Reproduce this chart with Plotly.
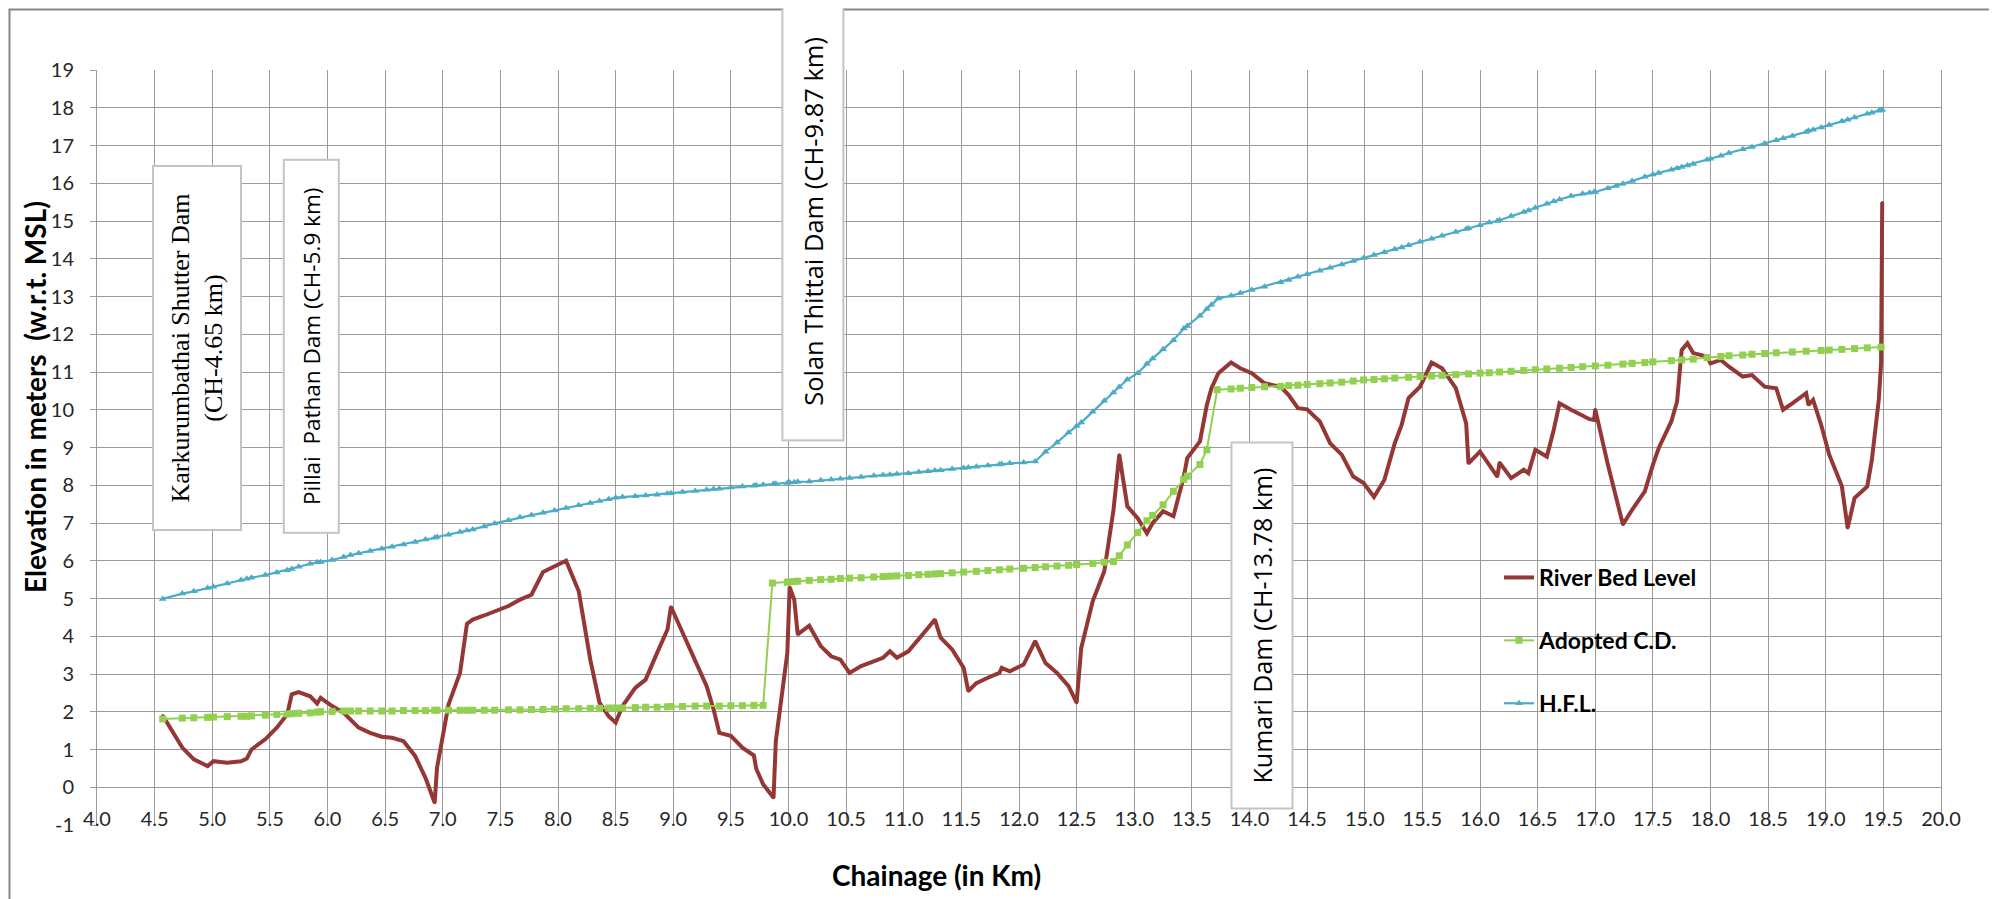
import plotly.graph_objects as go

# ---------------- data ----------------
chainage_km = [4.57, 4.74, 4.84, 4.96, 5.01, 5.13, 5.25, 5.30, 5.34, 5.46, 5.56, 5.65, 5.69, 5.75, 5.85,
               5.91, 5.94, 6.04, 6.14, 6.20, 6.27, 6.37, 6.47, 6.56, 6.66, 6.76, 6.85, 6.93, 6.95, 7.05,
               7.15, 7.21, 7.26, 7.36, 7.45, 7.57, 7.67, 7.77, 7.87, 7.97, 8.07, 8.18, 8.28, 8.36, 8.44,
               8.50, 8.56, 8.67, 8.76, 8.86, 8.95, 8.98, 9.08, 9.19, 9.29, 9.35, 9.40, 9.50, 9.60, 9.70,
               9.72, 9.78, 9.87, 9.89, 9.99, 10.01, 10.05, 10.08, 10.18, 10.28, 10.37, 10.45, 10.53, 10.63,
               10.74, 10.82, 10.88, 10.94, 11.04, 11.13, 11.21, 11.27, 11.32, 11.42, 11.52, 11.56, 11.63,
               11.73, 11.83, 11.85, 11.92, 12.04, 12.14, 12.23, 12.33, 12.43, 12.50, 12.54, 12.64, 12.74,
               12.82, 12.87, 12.94, 13.03, 13.11, 13.16, 13.25, 13.34, 13.43, 13.46, 13.57, 13.63, 13.67,
               13.73, 13.84, 13.92, 14.02, 14.13, 14.27, 14.34, 14.42, 14.50, 14.61, 14.70, 14.80, 14.90,
               14.99, 15.08, 15.17, 15.26, 15.32, 15.38, 15.48, 15.58, 15.67, 15.79, 15.88, 15.90, 16.00,
               16.08, 16.15, 16.17, 16.27, 16.38, 16.42, 16.48, 16.58, 16.64, 16.69, 16.79, 16.89, 16.95,
               16.99, 17.00, 17.11, 17.18, 17.24, 17.32, 17.43, 17.50, 17.55, 17.66, 17.71, 17.75, 17.80,
               17.85, 17.97, 18.00, 18.09, 18.16, 18.28, 18.36, 18.47, 18.57, 18.63, 18.71, 18.83, 18.85,
               18.89, 18.96, 19.03, 19.14, 19.19, 19.25, 19.36, 19.40, 19.46, 19.48, 19.49]

river_bed_level = [1.90, 1.05, 0.74, 0.56, 0.69, 0.65, 0.69, 0.76, 1.00, 1.27, 1.58, 1.93, 2.46, 2.52, 2.41,
                   2.22, 2.37, 2.15, 1.97, 1.80, 1.58, 1.44, 1.34, 1.31, 1.22, 0.83, 0.25, -0.41, 0.51, 2.19,
                   3.03, 4.33, 4.44, 4.55, 4.66, 4.80, 4.97, 5.10, 5.70, 5.85, 6.00, 5.19, 3.38, 2.24, 1.88,
                   1.71, 2.15, 2.63, 2.85, 3.56, 4.18, 4.78, 4.09, 3.34, 2.68, 2.06, 1.44, 1.36, 1.05, 0.84,
                   0.49, 0.08, -0.28, 1.22, 3.56, 5.30, 4.97, 4.05, 4.28, 3.74, 3.47, 3.38, 3.03, 3.21,
                   3.34, 3.43, 3.60, 3.43, 3.60, 3.91, 4.22, 4.44, 3.96, 3.65, 3.16, 2.55, 2.76,
                   2.90, 3.03, 3.16, 3.07, 3.25, 3.87, 3.29, 3.03, 2.68, 2.24, 3.69, 4.93, 5.72,
                   7.35, 8.81, 7.44, 7.13, 6.73, 7.00, 7.31, 7.18, 8.23, 8.72, 9.16, 10.13, 10.57,
                   10.97, 11.25, 11.10, 10.97, 10.70, 10.61, 10.39, 10.04, 10.01, 9.69, 9.11, 8.81, 8.23,
                   8.06, 7.69, 8.14, 9.11, 9.60, 10.31, 10.61, 11.25, 11.10, 10.57, 9.64, 8.58, 8.89,
                   8.54, 8.23, 8.60, 8.19, 8.41, 8.32, 8.94, 8.76, 9.47, 10.17, 10.00, 9.86, 9.75,
                   9.73, 10.01, 8.54, 7.66, 6.96, 7.35, 7.84, 8.54, 8.98, 9.69, 10.22, 11.58, 11.76,
                   11.50, 11.41, 11.23, 11.32, 11.14, 10.88, 10.92, 10.61, 10.57, 10.00, 10.17, 10.44, 10.13,
                   10.26, 9.60, 8.81, 7.97, 6.87, 7.66, 7.97, 8.67, 10.26, 11.23, 15.49]

hfl_level = [4.99, 5.13, 5.19, 5.28, 5.31, 5.40, 5.49, 5.52, 5.55, 5.62, 5.69, 5.75, 5.78, 5.84, 5.92,
             5.96, 5.97, 6.02, 6.10, 6.15, 6.20, 6.26, 6.32, 6.37, 6.43, 6.50, 6.56, 6.61, 6.63, 6.69,
             6.76, 6.80, 6.83, 6.91, 6.99, 7.07, 7.15, 7.21, 7.27, 7.33, 7.40, 7.47, 7.53, 7.58, 7.63,
             7.67, 7.69, 7.71, 7.73, 7.75, 7.78, 7.79, 7.82, 7.85, 7.88, 7.90, 7.91, 7.94, 7.97, 7.99,
             8.00, 8.01, 8.04, 8.04, 8.06, 8.07, 8.08, 8.09, 8.10, 8.13, 8.15, 8.17, 8.19, 8.22,
             8.25, 8.27, 8.28, 8.30, 8.32, 8.35, 8.37, 8.39, 8.40, 8.43, 8.46, 8.47, 8.49,
             8.52, 8.55, 8.56, 8.58, 8.60, 8.63, 8.89, 9.13, 9.40, 9.57, 9.66, 9.95, 10.24,
             10.46, 10.60, 10.80, 10.97, 11.22, 11.36, 11.60, 11.84, 12.15, 12.22, 12.49, 12.67, 12.78,
             12.95, 13.02, 13.09, 13.17, 13.26, 13.38, 13.44, 13.52, 13.59, 13.68, 13.76, 13.85, 13.94,
             14.02, 14.10, 14.17, 14.25, 14.30, 14.36, 14.45, 14.53, 14.61, 14.71, 14.79, 14.81, 14.89,
             14.96, 15.00, 15.02, 15.13, 15.24, 15.28, 15.35, 15.46, 15.52, 15.57, 15.66, 15.72, 15.75,
             15.77, 15.77, 15.87, 15.93, 15.99, 16.06, 16.17, 16.23, 16.27, 16.36, 16.40, 16.43, 16.47,
             16.51, 16.62, 16.65, 16.73, 16.80, 16.90, 16.96, 17.05, 17.14, 17.19, 17.25, 17.36, 17.39,
             17.42, 17.48, 17.54, 17.64, 17.68, 17.74, 17.84, 17.87, 17.92, 17.94, 17.95]

cd_km = [4.57, 4.74, 4.84, 4.96, 5.01, 5.13, 5.25, 5.30, 5.34, 5.46, 5.56, 5.65, 5.69, 5.75, 5.85,
         5.91, 5.94, 6.04, 6.14, 6.20, 6.27, 6.37, 6.47, 6.56, 6.66, 6.76, 6.85, 6.93, 6.95, 7.05,
         7.15, 7.21, 7.26, 7.36, 7.45, 7.57, 7.67, 7.77, 7.87, 7.97, 8.07, 8.18, 8.28, 8.36, 8.44,
         8.50, 8.56, 8.67, 8.76, 8.86, 8.95, 8.98, 9.08, 9.19, 9.29, 9.40, 9.50, 9.60, 9.70, 9.78,
         9.86, 9.99, 10.01, 10.05, 10.08, 10.18, 10.28, 10.37, 10.45, 10.53, 10.63, 10.74, 10.82,
         10.88, 10.94, 11.04, 11.13, 11.21, 11.27, 11.32, 11.42, 11.52, 11.63, 11.73, 11.83, 11.92,
         12.04, 12.14, 12.23, 12.33, 12.43, 12.50, 12.64, 12.74, 12.82, 12.87, 12.94, 13.03, 13.11,
         13.16, 13.25, 13.34, 13.43, 13.46, 13.57, 13.63, 13.72, 13.84, 13.92, 14.02, 14.13, 14.27,
         14.34, 14.42, 14.50, 14.61, 14.70, 14.80, 14.90, 14.99, 15.08, 15.17, 15.26, 15.38, 15.48,
         15.58, 15.67, 15.79, 15.90, 16.00, 16.08, 16.17, 16.27, 16.38, 16.48, 16.58, 16.69, 16.79,
         16.89, 17.00, 17.11, 17.24, 17.32, 17.43, 17.50, 17.66, 17.75, 17.85, 17.97, 18.09, 18.16,
         18.28, 18.36, 18.47, 18.57, 18.71, 18.83, 18.96, 19.03, 19.14, 19.25, 19.36, 19.48]

adopted_cd = [1.81, 1.83, 1.84, 1.85, 1.86, 1.87, 1.88, 1.88, 1.89, 1.91, 1.93, 1.94, 1.95, 1.96, 1.97,
              1.99, 2.00, 2.01, 2.02, 2.02, 2.02, 2.02, 2.02, 2.02, 2.03, 2.03, 2.03, 2.04, 2.04, 2.04,
              2.04, 2.04, 2.04, 2.04, 2.04, 2.05, 2.05, 2.06, 2.06, 2.07, 2.08, 2.08, 2.09, 2.09, 2.10,
              2.10, 2.10, 2.11, 2.12, 2.12, 2.13, 2.14, 2.14, 2.15, 2.15, 2.15, 2.16, 2.16, 2.17, 2.17,
              5.41, 5.43, 5.44, 5.45, 5.46, 5.48, 5.50, 5.51, 5.53, 5.54, 5.55, 5.57, 5.58,
              5.59, 5.60, 5.61, 5.63, 5.64, 5.65, 5.66, 5.68, 5.70, 5.72, 5.74, 5.76, 5.78,
              5.80, 5.82, 5.84, 5.86, 5.88, 5.90, 5.93, 5.96, 5.98, 6.13, 6.42, 6.75, 7.06,
              7.20, 7.48, 7.84, 8.16, 8.24, 8.55, 8.94, 10.53, 10.55, 10.57, 10.59, 10.61, 10.62,
              10.64, 10.65, 10.67, 10.69, 10.71, 10.73, 10.76, 10.79, 10.80, 10.82, 10.84, 10.86, 10.88,
              10.89, 10.91, 10.93, 10.95, 10.97, 10.98, 11.00, 11.02, 11.04, 11.06, 11.08, 11.10, 11.12,
              11.14, 11.16, 11.18, 11.21, 11.23, 11.25, 11.27, 11.30, 11.32, 11.34, 11.38, 11.41, 11.43,
              11.45, 11.47, 11.49, 11.51, 11.53, 11.55, 11.57, 11.58, 11.60, 11.62, 11.64, 11.66]

y_tick_values = list(range(-1, 20))
y_tick_labels = [str(v) for v in y_tick_values]

dam_labels = ["Karkurumbathai Shutter Dam<br>(CH-4.65 km)",
              "Pillai  Pathan Dam (CH-5.9 km)",
              "Solan Thittai Dam (CH-9.87 km)",
              "Kumari Dam (CH-13.78 km)"]

series_names = ["River Bed Level", "Adopted C.D.", "H.F.L."]

# ---------------- layout geometry ----------------
# the figure div sits 8 px inside the page (default body margin); positions below are page pixels
W, H = 1997, 899
OFF = 8
PLOT_L, PLOT_R, PLOT_T, PLOT_B = 97, 1941, 70, 825   # page pixels of plot area
L = PLOT_L - OFF
T = PLOT_T - OFF
R = W - (PLOT_R - OFF)
B = H - (PLOT_B - OFF)
PW, PH = PLOT_R - PLOT_L, PLOT_B - PLOT_T


def px(xp):
    return (xp - PLOT_L) / PW


def py(yp):
    return (PLOT_B - yp) / PH


GRID = "#9c9c9c"
SANS = "Lato, Open Sans, sans-serif"
TICKFONT = dict(family=SANS, size=20, color="#262626")

fig = go.Figure()
fig.add_trace(go.Scatter(
    x=chainage_km, y=river_bed_level, name=series_names[0], mode="lines+markers",
    line=dict(color="#953735", width=4),
    marker=dict(symbol="circle", size=3, color="#953735"),
    legendgroup="a"))
fig.add_trace(go.Scatter(
    x=cd_km, y=adopted_cd, name=series_names[1], mode="lines+markers",
    line=dict(color="#92D050", width=2),
    marker=dict(symbol="square", size=7, color="#92D050"),
    legendgroup="b"))
fig.add_trace(go.Scatter(
    x=chainage_km, y=hfl_level, name=series_names[2], mode="lines+markers",
    line=dict(color="#4BACC6", width=2.2),
    marker=dict(symbol="triangle-up", size=7, color="#4BACC6"),
    legendgroup="c"))

fig.update_xaxes(range=[4, 20], dtick=0.5, tick0=4, tickformat=".1f",
                 showgrid=True, gridcolor=GRID, gridwidth=1,
                 showline=False, zeroline=False, ticks="",
                 anchor="free", position=py(805),
                 tickfont=TICKFONT)
fig.update_yaxes(range=[-1, 19], tickmode="array", tickvals=y_tick_values, ticktext=y_tick_labels,
                 showgrid=True, gridcolor=GRID, gridwidth=1,
                 showline=True, linecolor=GRID, linewidth=1, mirror=True,
                 zeroline=False, ticks="outside", ticklen=6, tickcolor=GRID,
                 ticklabelstandoff=12, tickfont=TICKFONT)

annotations = []
annotations.append(dict(text="<b>Chainage (in Km)</b>", xref="paper", yref="paper",
                        x=px(936), y=py(875), xanchor="center", yanchor="middle", showarrow=False,
                        font=dict(family=SANS, size=28, color="#000000")))
annotations.append(dict(text="<b>Elevation in meters  (w.r.t. MSL)</b>", xref="paper", yref="paper",
                        x=px(35), y=py(397), xanchor="center", yanchor="middle", showarrow=False,
                        textangle=-90,
                        font=dict(family=SANS, size=28, color="#000000")))

boxes = [  # (center x px, center y px, box width px, box height px, font family, size)
    (197, 348, 90, 366, "Liberation Serif, serif", 26),
    (311.3, 346.5, 57, 375, "Open Sans, sans-serif", 22.5),
    (813.4, 221, 63, 440, "Open Sans, sans-serif", 25.5),
    (1261.5, 626, 63, 368, "Open Sans, sans-serif", 25),
]
for label, (cx, cy, bw, bh, fam, fs) in zip(dam_labels, boxes):
    annotations.append(dict(text=label, xref="paper", yref="paper", x=px(cx), y=py(cy),
                            xanchor="center", yanchor="middle", showarrow=False, textangle=-90,
                            width=bh - 4, height=bw - 4, borderpad=0, borderwidth=2,
                            bordercolor="#c4c4c4", bgcolor="#ffffff", align="center",
                            font=dict(family=fam, size=fs, color="#000000")))

fig.update_layout(
    width=W, height=H,
    margin=dict(l=L, r=R, t=T, b=B, autoexpand=False),
    paper_bgcolor="#ffffff", plot_bgcolor="#ffffff",
    showlegend=True,
    legend=dict(x=px(1499), y=py(556), xanchor="left", yanchor="top",
                bgcolor="rgba(0,0,0,0)", borderwidth=0, traceorder="grouped",
                tracegroupgap=30, itemwidth=30,
                font=dict(family=SANS, size=23, color="#000000")),
    annotations=annotations,
    shapes=[dict(type="rect", xref="paper", yref="paper",
                 x0=px(9.5), x1=px(1993), y0=py(905), y1=py(9.5),
                 line=dict(color="#868686", width=2), fillcolor="rgba(0,0,0,0)", layer="above")],
)
for tr in fig.data:
    tr.name = "<b>" + tr.name + "</b>"

fig.write_html("out.html")
